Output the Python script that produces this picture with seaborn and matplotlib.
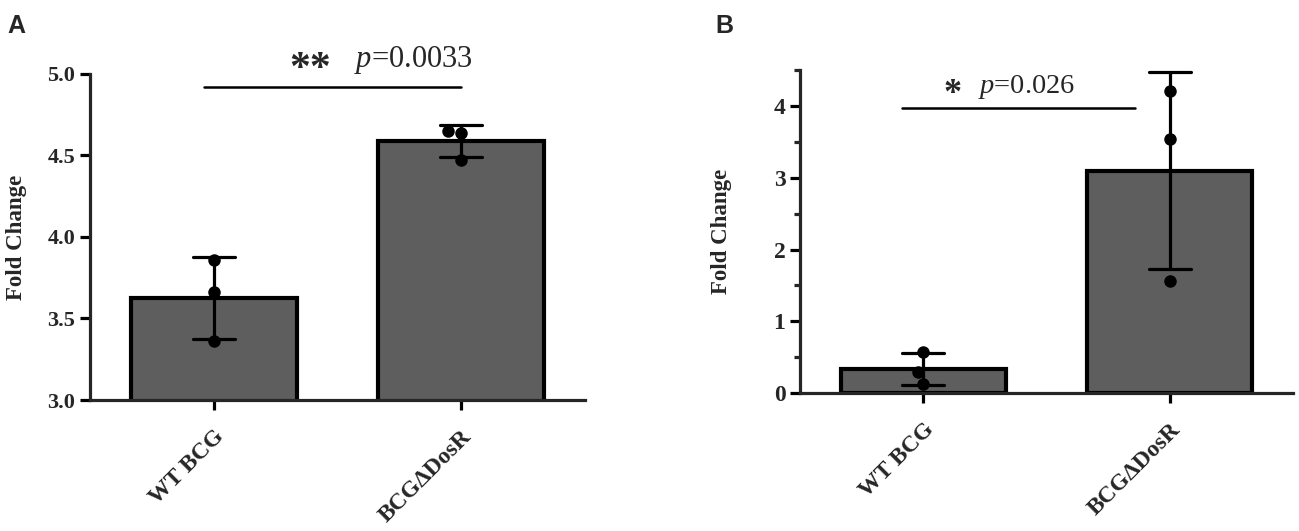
import pandas as pd
import seaborn as sns
import matplotlib.pyplot as plt

groups = ["WT BCG", "BCGΔDosR"]

# panel A replicates
a_wt = [3.86, 3.66, 3.36]
a_dosr = [4.65, 4.64, 4.475]
# panel B replicates
b_wt = [0.572, 0.288, 0.13]
b_dosr = [4.21, 3.535, 1.558]

a_stars, a_p = "**", "$\\it{p}$=0.0033"
b_stars, b_p = "*", "$\\it{p}$=0.026"

sns.set_style("ticks")
plt.rcParams['font.family'] = ['Liberation Serif', 'DejaVu Serif']
plt.rcParams['mathtext.fontset'] = 'custom'
plt.rcParams['mathtext.rm'] = 'Liberation Serif'
plt.rcParams['mathtext.it'] = 'Liberation Serif:italic'


def long_df(wt, dosr):
    return pd.DataFrame({'group': [groups[0]] * len(wt) + [groups[1]] * len(dosr),
                         'fold': wt + dosr})


def panel(ax, df, ylim, ticksize, labelpad):
    sns.barplot(data=df, x='group', y='fold', order=groups, color='#5e5e5e', saturation=1,
                width=0.67, errorbar='sd', capsize=0.17, edgecolor='black', linewidth=3,
                err_kws={'color': 'black', 'linewidth': 2.3}, ax=ax)
    sns.swarmplot(data=df, x='group', y='fold', order=groups, color='black', size=9, ax=ax)
    ax.set_xlim(-0.5, 1.5)
    ax.set_ylim(*ylim)
    ax.set_xlabel('')
    ax.set_ylabel('Fold Change', fontsize=16.5, fontweight='bold', labelpad=labelpad)
    for s in ['top', 'right']:
        ax.spines[s].set_visible(False)
    for s in ['left', 'bottom']:
        ax.spines[s].set_linewidth(2.3)
    ax.tick_params(axis='both', width=2.3, length=7, color='black')
    ax.tick_params(axis='y', labelsize=ticksize)
    ax.tick_params(axis='x', labelsize=17, pad=12)
    plt.setp(ax.get_xticklabels(), fontweight='bold', rotation=45, ha='right', rotation_mode='anchor')


def significance(ax, stars, ptext, line_x, line_y, star_x, star_y, star_size, p_x, p_y, p_size):
    ax.plot(line_x, [line_y, line_y], color='black', linewidth=1.8, clip_on=False)
    ax.text(star_x, star_y, stars, fontsize=star_size, fontweight='bold',
            ha='center', va='baseline', clip_on=False)
    ax.text(p_x, p_y, ptext, fontsize=p_size, ha='left', va='baseline', clip_on=False)


fig = plt.figure(figsize=(12.99, 5.31), dpi=100)
ax_a = fig.add_axes([0.0693, 0.2467, 0.381, 0.614])
ax_b = fig.add_axes([0.6159, 0.2599, 0.3795, 0.608])

panel(ax_a, long_df(a_wt, a_dosr), (3.0, 5.0), 16, 15)
ax_a.set_yticks([3.0, 3.5, 4.0, 4.5, 5.0])
plt.setp(ax_a.get_yticklabels(), fontweight='bold')
significance(ax_a, a_stars, a_p, [-0.04, 1.0], 4.92, 0.39, 4.963, 30, 0.567, 5.04, 22)

panel(ax_b, long_df(b_wt, b_dosr), (0, 4.5), 17, 30)
ax_b.set_yticks([0, 1, 2, 3, 4])
ax_b.set_yticks([0.5, 1.5, 2.5, 3.5, 4.5], minor=True)
ax_b.tick_params(axis='y', which='minor', width=2.3, length=4.5)
plt.setp(ax_b.get_yticklabels(), fontweight='bold')
significance(ax_b, b_stars, b_p, [-0.085, 0.86], 3.97, 0.12, 4.04, 26, 0.223, 4.18, 20.5)

fig.text(0.006, 0.938, 'A', fontsize=18, fontweight='bold', family='Liberation Sans')
fig.text(0.5504, 0.938, 'B', fontsize=18, fontweight='bold', family='Liberation Sans')

fig.savefig('out.png', dpi=100)
